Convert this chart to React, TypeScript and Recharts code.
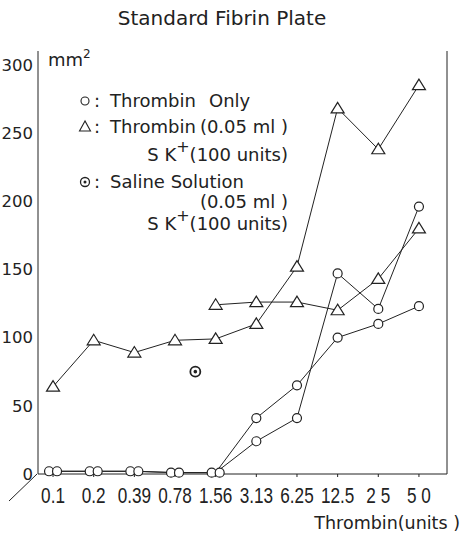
import React from "react";
import {
  ComposedChart,
  Line,
  ReferenceLine,
  XAxis,
  YAxis,
} from "recharts";

const DOSE_LABELS = ["0.1", "0.2", "0.39", "0.78", "1.56", "3.13", "6.25", "12.5", "2 5", "5 0"];
const DOSE_POS = [0, 1, 2, 3, 4, 5, 6, 7, 8, 9];
const Y_TICKS = [0, 50, 100, 150, 200, 250, 300];

// two "thrombin only" runs (circles)
const THROMBIN_A = [2, 2, 2, 1, 1, 41, 65, 100, 110, 123];
const THROMBIN_B = [2, 2, 2, 1, 1, 24, 41, 147, 121, 196];
// thrombin (0.05 ml) + SK (100 units) runs (triangles)
const SK_A = [64, 98, 89, 98, 99, 110, 152, 268, 238, 285];
const SK_B: (number | null)[] = [null, null, null, null, 124, 126, 126, 120, 143, 180];
// saline solution + SK, single reading between 0.78 and 1.56
const SALINE_POS = [3.5];
const SALINE = [75];

const INK = "#222";
const FONT = "'DejaVu Sans', 'Noto Sans', sans-serif";
const NUM_FONT = "'Liberation Sans', Arial, sans-serif";

const toRows = (vals: (number | null)[], pos: number[]) =>
  vals.map((v, i) => ({ x: pos[i], v }));

const circleDot = (dx: number) => (p: any) => {
  const { cx, cy, index, value } = p;
  if (cy == null || value == null) return <g key={index} />;
  const shift = index <= 4 ? dx : 0;
  return (
    <circle key={index} cx={cx + shift} cy={cy} r={4.5} fill="#fff" stroke={INK} strokeWidth={1.2} />
  );
};

const triDot = (p: any) => {
  const { cx, cy, index, value } = p;
  if (cy == null || value == null) return <g key={index} />;
  return (
    <polygon
      key={index}
      points={`${cx},${cy - 6} ${cx - 6.5},${cy + 4.5} ${cx + 6.5},${cy + 4.5}`}
      fill="#fff"
      stroke={INK}
      strokeWidth={1.2}
    />
  );
};

const salineDot = (p: any) => {
  const { cx, cy, index } = p;
  return (
    <g key={index}>
      <circle cx={cx} cy={cy} r={5} fill="#fff" stroke={INK} strokeWidth={1.8} />
      <circle cx={cx} cy={cy} r={1.8} fill={INK} />
    </g>
  );
};

// condensed typewriter-like numerals under the x axis
const XTick = (p: any) => {
  const { x, y, payload } = p;
  return (
    <g transform={`translate(${x},${y + 24}) scale(0.78,1)`}>
      <text x={0} y={0} textAnchor="middle" fontSize={22} fill={INK} fontFamily={NUM_FONT}>
        {DOSE_LABELS[payload.value]}
      </text>
    </g>
  );
};

export default function App() {
  return (
    <div style={{ position: "absolute", left: 0, top: 0, width: 465, height: 535, background: "#fff" }}>
      <ComposedChart width={465} height={535} margin={{ top: 51, right: 18, bottom: 0, left: 0 }}>
        <XAxis
          type="number"
          dataKey="x"
          domain={[-0.37, 9.69]}
          ticks={DOSE_POS}
          allowDataOverflow
          height={61}
          tick={<XTick />}
          tickSize={3}
          stroke={INK}
        />
        <YAxis
          type="number"
          domain={[0, 310]}
          ticks={Y_TICKS}
          width={38}
          tickLine={false}
          tickSize={0}
          tickMargin={5}
          stroke={INK}
          tick={{ fill: INK, fontSize: 16.5, fontFamily: FONT }}
        />
        <ReferenceLine x={9.69} stroke={INK} strokeWidth={1} />
        <Line
          data={toRows(SK_A, DOSE_POS)}
          dataKey="v"
          stroke={INK}
          strokeWidth={1}
          dot={triDot}
          isAnimationActive={false}
        />
        <Line
          data={toRows(SK_B, DOSE_POS)}
          dataKey="v"
          stroke={INK}
          strokeWidth={1}
          dot={triDot}
          isAnimationActive={false}
        />
        <Line
          data={toRows(THROMBIN_A, DOSE_POS)}
          dataKey="v"
          stroke={INK}
          strokeWidth={1}
          dot={circleDot(-4)}
          isAnimationActive={false}
        />
        <Line
          data={toRows(THROMBIN_B, DOSE_POS)}
          dataKey="v"
          stroke={INK}
          strokeWidth={1}
          dot={circleDot(4)}
          isAnimationActive={false}
        />
        <Line
          data={toRows(SALINE, SALINE_POS)}
          dataKey="v"
          stroke="none"
          dot={salineDot}
          isAnimationActive={false}
        />
      </ComposedChart>

      <svg
        width={465}
        height={535}
        style={{ position: "absolute", left: 0, top: 0, pointerEvents: "none" }}
        fontFamily={FONT}
        fill={INK}
      >
        <text x={222} y={25} textAnchor="middle" fontSize={20}>Standard Fibrin Plate</text>
        <text x={48} y={66} fontSize={18}>
          mm<tspan dy={-8} fontSize={12}>2</tspan>
        </text>
        <line x1={37} y1={474} x2={9} y2={501} stroke={INK} strokeWidth={1} />

        <circle cx={85} cy={101} r={4} fill="#fff" stroke={INK} strokeWidth={1.1} />
        <text x={94} y={107} fontSize={18}>:</text>
        <text x={110} y={107} fontSize={18}>Thrombin</text>
        <text x={209} y={107} fontSize={18}>Only</text>

        <polygon points="85,121 79.5,131 90.5,131" fill="#fff" stroke={INK} strokeWidth={1.1} />
        <text x={94} y={133} fontSize={18}>:</text>
        <text x={110} y={133} fontSize={18}>Thrombin</text>
        <text x={288} y={133} fontSize={18} textAnchor="end">(0.05 ml )</text>
        <text x={288} y={161} fontSize={18} textAnchor="end">
          S K<tspan dy={-9} fontSize={16}>+</tspan><tspan dy={9}>(100 units)</tspan>
        </text>

        <circle cx={85} cy={182} r={4.5} fill="#fff" stroke={INK} strokeWidth={1.3} />
        <circle cx={85} cy={182} r={1.5} fill={INK} />
        <text x={94} y={188} fontSize={18}>:</text>
        <text x={110} y={188} fontSize={18}>Saline Solution</text>
        <text x={288} y={208} fontSize={18} textAnchor="end">(0.05 ml )</text>
        <text x={288} y={230} fontSize={18} textAnchor="end">
          S K<tspan dy={-9} fontSize={16}>+</tspan><tspan dy={9}>(100 units)</tspan>
        </text>

        <text x={460} y={529} fontSize={17.5} textAnchor="end">Thrombin(units )</text>
      </svg>
    </div>
  );
}
